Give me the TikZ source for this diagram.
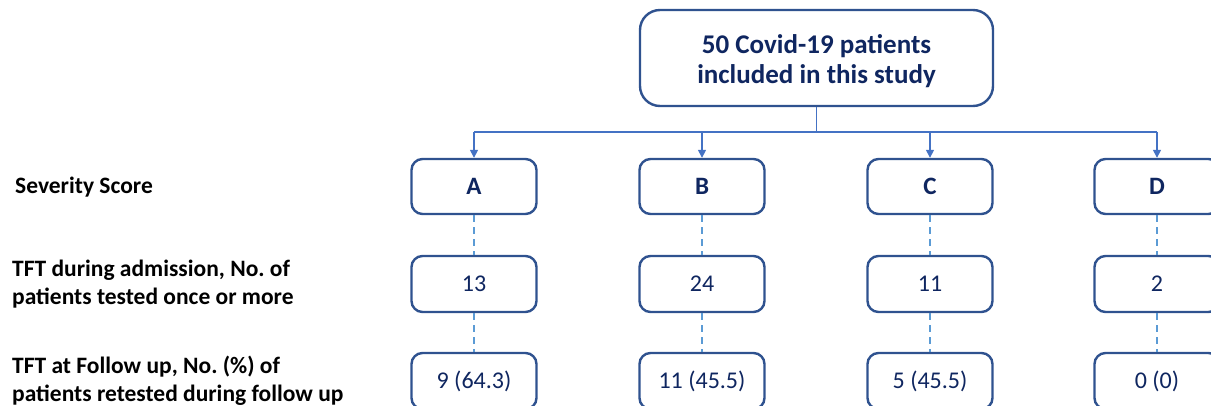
\documentclass[tikz,border=0pt]{standalone}
\usepackage{fontspec}
\setmainfont{Carlito}
\frenchspacing
\usetikzlibrary{arrows.meta}
\definecolor{boxline}{HTML}{2F528F}
\definecolor{boxtext}{HTML}{0F2660}
\definecolor{conn}{HTML}{4472C4}
\definecolor{dashc}{HTML}{5B9BD5}
\tikzset{
  box/.style={draw=boxline, line width=2.4pt, rounded corners=11pt, fill=white,
    minimum width=125pt, minimum height=56pt, inner sep=0pt, text=boxtext,
    font=\fontsize{24}{28}\selectfont},
  topbox/.style={box, rounded corners=20pt, minimum width=353pt, minimum height=96pt},
  toptext/.style={align=center, inner sep=0pt, text=boxtext, font=\fontsize{27}{30}\selectfont\bfseries},
  lbl/.style={anchor=west, align=left, inner sep=0pt, text=black,
    font=\fontsize{23.5}{28}\selectfont\bfseries},
  arr/.style={draw=conn, line width=1.5pt, -{Triangle[length=8pt,width=8pt]}},
  plain/.style={draw=conn, line width=1.5pt},
  dsh/.style={draw=dashc, line width=2pt, dash pattern=on 7pt off 5pt}
}
\begin{document}
\begin{tikzpicture}[x=1pt,y=-1pt]
\useasboundingbox (0,0) rectangle (1211,406);
\clip (0,0) rectangle (1211,406);
\node[topbox] (top) at (816.5,58) {};
\node[toptext] (topt) at ([yshift=-3.5pt]top.center) {50 Covid-19 patients\\included in this study};
\foreach \n/\x/\t/\u/\v in {a/474/A/13/9 (64.3), b/702/B/24/11 (45.5), c/930/C/11/5 (45.5), d/1157/D/2/0 (0)}{
  \node[box, font=\fontsize{25}{28}\selectfont\bfseries, minimum height=55pt] (s\n) at (\x,186.5) {\t};
  \node[box] (t\n) at (\x,284) {\u};
  \node[box] (f\n) at (\x,381) {\v};
  \draw[dsh] (s\n.south) -- (t\n.north);
  \draw[dsh] (t\n.south) -- (f\n.north);
}
\coordinate (hub) at (top.south |- 0,132);
\draw[plain] (top.south) -- (hub);
\draw[plain] (sa.north |- hub) -- (sd.north |- hub);
\foreach \n in {a,b,c,d}{
  \draw[arr] (s\n.north |- hub) -- (s\n.north);
}
\node[lbl] (l1) at (15,187) {Severity Score};
\node[lbl] (l2) at (12,284) {TFT during admission, No. of\\patients tested once or more};
\node[lbl] (l3) at (12,381) {TFT at Follow up, No. (\%) of\\patients retested during follow up};
\end{tikzpicture}
\end{document}
